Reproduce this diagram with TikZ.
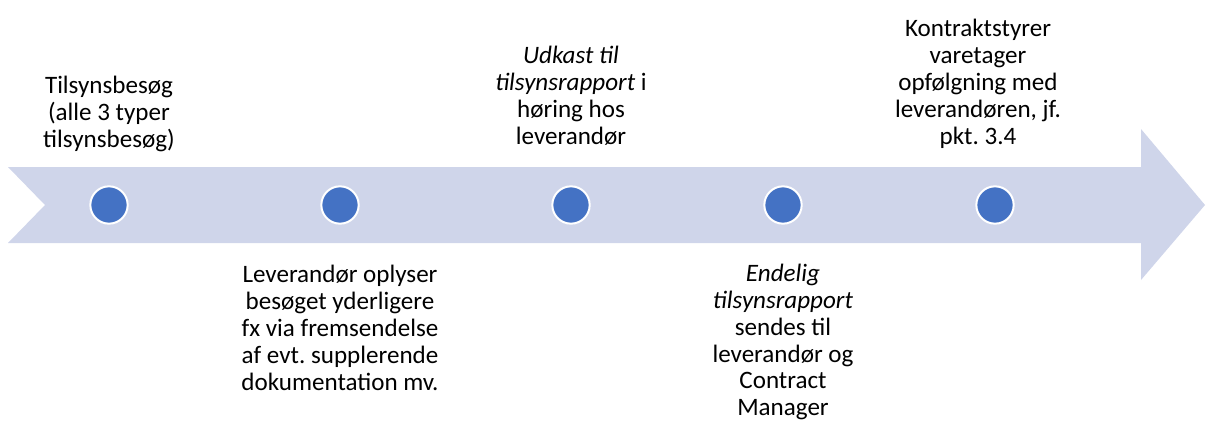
\documentclass[tikz,border=0pt]{standalone}
\usepackage{fontspec}
\setmainfont{Carlito}
\frenchspacing
\usetikzlibrary{positioning}
\definecolor{bandblue}{HTML}{CFD5EA}
\definecolor{dotblue}{HTML}{4472C4}
\tikzset{dot/.style={circle,fill=dotblue,draw=white,line width=1.5pt,inner sep=0pt,minimum size=28pt}}
\tikzset{lbl/.style={align=center,inner sep=0pt,font=\fontsize{18.8}{20.2}\selectfont}}

\begin{document}
\begin{tikzpicture}[x=0.75pt,y=-0.75pt]
      \useasboundingbox (0,0) rectangle (1206,421);
      % the timeline band
      \fill[bandblue] (8,167) -- (1141,167) -- (1141,129) -- (1205,205) -- (1141,280)
            -- (1141,243) -- (8,243) -- (45,205) -- cycle;

      \node[dot] (besoeg) at (109,205) {};
      \node[dot] (oplys) at (340,205) {};
      \node[dot] (udkast) at (571,205) {};
      \node[dot] (endelig) at (783,205) {};
      \node[dot] (opfoelg) at (995,205) {};

      \node[lbl] (besoeg-txt) at (109,114) {Tilsynsbesøg\\(alle 3 typer\\tilsynsbesøg)};
      \node[lbl] (oplys-txt) at (340,328) {Leverandør oplyser\\besøget yderligere\\fx via fremsendelse\\af evt. supplerende\\dokumentation mv.};
      \node[lbl] (udkast-txt) at (571,96) {\textit{Udkast til}\\\textit{tilsynsrapport} i\\høring hos\\leverandør};
      \node[lbl] (endelig-txt) at (783,342) {\textit{Endelig}\\\textit{tilsynsrapport}\\sendes til\\leverandør og\\Contract\\Manager};
      \node[lbl] (opfoelg-txt) at (978,84) {Kontraktstyrer\\varetager\\opfølgning med\\leverandøren, jf.\\pkt. 3.4};
  \end{tikzpicture}
\end{document}
